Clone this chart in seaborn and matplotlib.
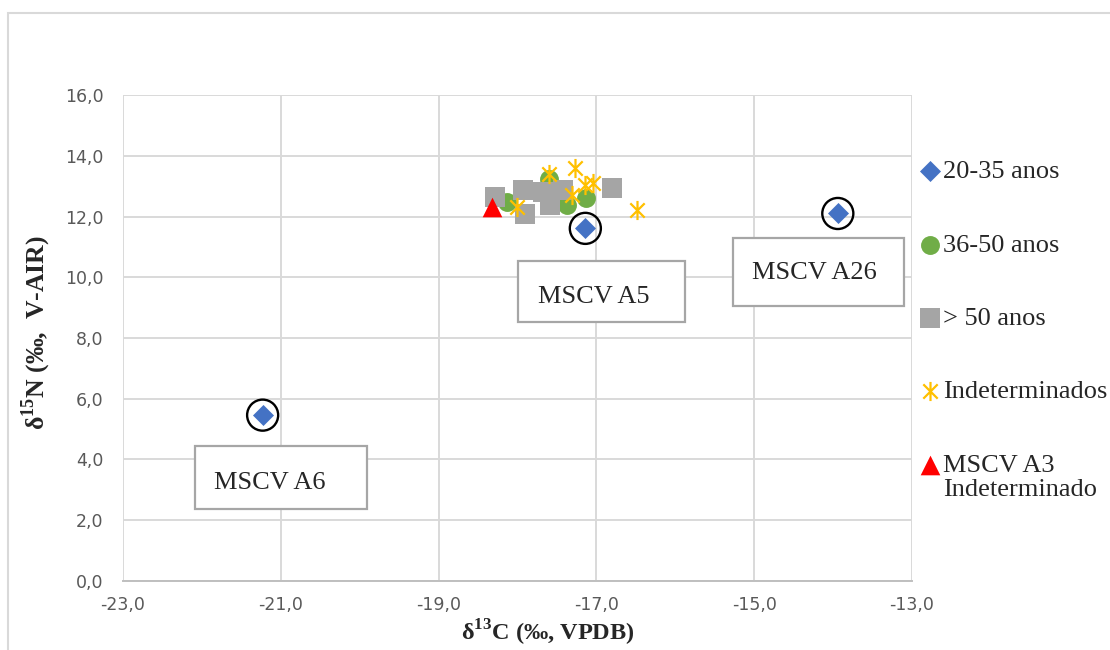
import matplotlib
matplotlib.use("Agg")
import matplotlib.pyplot as plt
import seaborn as sns
from matplotlib.path import Path
from matplotlib.patches import Rectangle
from matplotlib.ticker import FuncFormatter

sns.set_theme(style="white")
plt.rcParams["font.family"] = ["Liberation Serif", "DejaVu Serif"]
plt.rcParams["mathtext.fontset"] = "custom"
plt.rcParams["mathtext.rm"] = "Liberation Serif"
plt.rcParams["mathtext.bf"] = "Liberation Serif:bold"

# delta13C / delta15N values
youngX = [-21.23, -17.14, -13.94]
youngY = [5.46, 11.61, 12.10]

middleX = [-18.13, -17.60, -17.13, -17.37]
middleY = [12.47, 13.22, 12.60, 12.37]

olderX = [-18.28, -17.90, -17.93, -17.68, -17.59, -17.42, -16.80]
olderY = [12.63, 12.07, 12.86, 12.82, 12.37, 12.86, 12.93]

unknownX = [-18.00, -17.60, -17.27, -17.31, -17.14, -17.04, -16.49]
unknownY = [12.30, 13.39, 13.59, 12.70, 13.03, 13.09, 12.20]

a3X = [-18.32]
a3Y = [12.30]

labelNames = ["MSCV A6", "MSCV A5", "MSCV A26"]
xTicks = [-23, -21, -19, -17, -15, -13]
yTicks = [0, 2, 4, 6, 8, 10, 12, 14, 16]

# six-armed asterisk like the spreadsheet marker
asterisk = Path(
    [(0, -1), (0, 1), (-0.75, -0.75), (0.75, 0.75), (-0.75, 0.75), (0.75, -0.75)],
    [Path.MOVETO, Path.LINETO, Path.MOVETO, Path.LINETO, Path.MOVETO, Path.LINETO],
)

fig = plt.figure(figsize=(11.1, 6.5), dpi=100)
ax = fig.add_axes([0.1108, 0.1062, 0.7108, 0.7476])

sns.scatterplot(x=youngX, y=youngY, marker="D", s=115, color="#4472C4",
                linewidth=0, label="20-35 anos", ax=ax, zorder=3)
sns.scatterplot(x=middleX, y=middleY, marker="o", s=185, color="#70AD47",
                linewidth=0, label="36-50 anos", ax=ax, zorder=3)
sns.scatterplot(x=olderX, y=olderY, marker="s", s=200, color="#A5A5A5",
                linewidth=0, label="> 50 anos", ax=ax, zorder=3)
ax.scatter(unknownX, unknownY, marker=asterisk, s=190, color="#FFC000",
           linewidths=1.6, label="Indeterminados", zorder=4)
sns.scatterplot(x=a3X, y=a3Y, marker="^", s=200, color="#FF0000",
                linewidth=0, label="MSCV A3", ax=ax, zorder=5)

# black rings around the labelled individuals
ax.scatter(youngX, youngY, marker="o", s=500, facecolors="none",
           edgecolors="black", linewidths=1.7, zorder=6)

# callout boxes
boxes = [(-22.09, 2.37, 2.18, 2.07), (-17.99, 8.53, 2.11, 2.00), (-15.27, 9.05, 2.17, 2.24)]
textPos = [(-21.85, 3.23), (-17.74, 9.35), (-15.03, 10.14)]
for (bx, by, bw, bh), (tx, ty), name in zip(boxes, textPos, labelNames):
    ax.add_patch(Rectangle((bx, by), bw, bh, facecolor="white", edgecolor="#A6A6A6",
                           linewidth=1.6, zorder=7, clip_on=False))
    ax.text(tx, ty, name, fontsize=19, ha="left", va="center", zorder=8)

ax.set_xlim(-23, -13)
ax.set_ylim(0, 16)
ax.set_xticks(xTicks)
ax.set_yticks(yTicks)
commaFmt = FuncFormatter(lambda v, pos: f"{v:.1f}".replace(".", ","))
ax.xaxis.set_major_formatter(commaFmt)
ax.yaxis.set_major_formatter(commaFmt)
ax.grid(True, color="#D9D9D9", linewidth=1.4)
ax.set_axisbelow(True)
for side in ["top", "right", "left"]:
    ax.spines[side].set_visible(False)
ax.spines["bottom"].set_color("#BFBFBF")
ax.spines["bottom"].set_linewidth(1.4)
ax.tick_params(length=0, labelsize=12.5, labelcolor="#595959", pad=14)
for lbl in ax.get_xticklabels() + ax.get_yticklabels():
    lbl.set_family("DejaVu Sans")
ax.tick_params(axis="x", pad=11)

ax.set_xlabel("δ$^{\\mathbf{13}}$C (‰, VPDB)", fontsize=17.5, fontweight="bold", va="center")
ax.set_ylabel("δ$^{\\mathbf{15}}$N (‰,  V-AIR)", fontsize=18.5, fontweight="bold", va="center")
ax.xaxis.set_label_coords(0.539, -0.106)
ax.yaxis.set_label_coords(-0.110, 0.512)

leg = ax.legend(loc="upper left", bbox_to_anchor=(0.8297, 0.754), bbox_transform=fig.transFigure,
                frameon=False, fontsize=19, handletextpad=0.15, handlelength=0.7,
                labelspacing=1.89, borderaxespad=0, borderpad=0)

# second line of the last legend entry, placed under its first line
fig.canvas.draw()
lastText = leg.get_texts()[-1].get_window_extent()
fig.text(lastText.x0 / 1110, (lastText.y0 - 2) / 650, "Indeterminado",
         fontsize=19, ha="left", va="top")

fig.add_artist(Rectangle((8 / 1110, -0.1), 1.2, 1.1 - 13 / 650, transform=fig.transFigure,
                         facecolor="none", edgecolor="#D9D9D9", linewidth=1.5))

fig.savefig("out.png", dpi=100)
